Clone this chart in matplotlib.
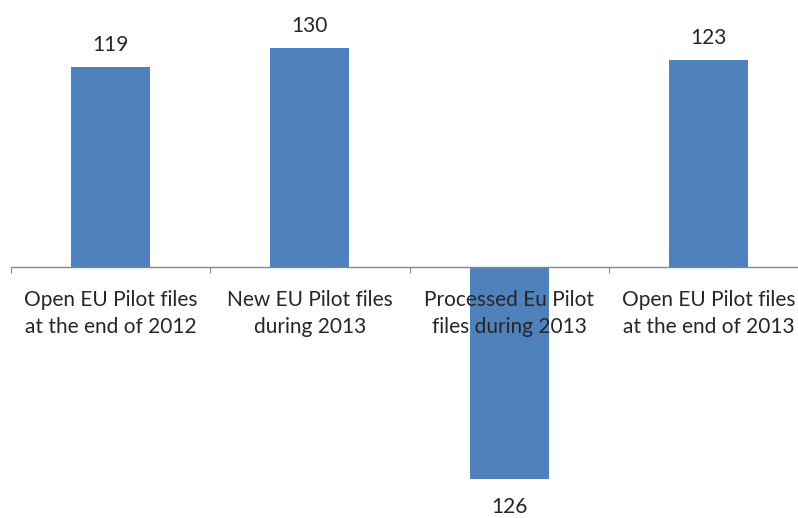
import matplotlib
matplotlib.use("Agg")
import matplotlib.pyplot as plt

categories = ["Open EU Pilot files\nat the end of 2012",
              "New EU Pilot files\nduring 2013",
              "Processed Eu Pilot\nfiles during 2013",
              "Open EU Pilot files\nat the end of 2013"]
values = [119, 130, -126, 123]
labels = ["119", "130", "126", "123"]

plt.rcParams['font.family'] = ['Lato', 'DejaVu Sans']

fig = plt.figure(figsize=(7.98, 5.18), dpi=100)
ax = fig.add_axes([11 / 798, 0, 797 / 798, 1])

x = range(len(values))
bars = ax.bar(x, values, width=0.396, color="#4F81BD", zorder=1)

ax.set_xlim(-0.5, 3.5)
ax.set_ylim(-149.0, 158.5)

for s in ["top", "left", "right"]:
    ax.spines[s].set_visible(False)
ax.spines["bottom"].set_position(("data", 0))
ax.spines["bottom"].set_color("#868686")
ax.spines["bottom"].set_linewidth(1)
ax.set_yticks([])

# boundary ticks between categories, labels sit on minor ticks at centres
ax.set_xticks([-0.5, 0.5, 1.5, 2.5, 3.5])
ax.set_xticklabels([])
ax.tick_params(axis="x", which="major", direction="out", length=4, color="#868686")
ax.set_xticks(list(x), minor=True)
ax.set_xticklabels(categories, minor=True, fontsize=15, color="#262626", linespacing=1.45)
ax.tick_params(axis="x", which="minor", length=0, pad=16.5)

for b, v, lab in zip(bars, values, labels):
    cx = b.get_x() + b.get_width() / 2
    if v >= 0:
        ax.annotate(lab, (cx, v), xytext=(0, 8.5), textcoords="offset points",
                    ha="center", va="bottom", fontsize=15, color="#262626")
    else:
        ax.annotate(lab, (cx, v), xytext=(0, -13), textcoords="offset points",
                    ha="center", va="top", fontsize=15, color="#262626")

fig.savefig("out.png", dpi=100)
